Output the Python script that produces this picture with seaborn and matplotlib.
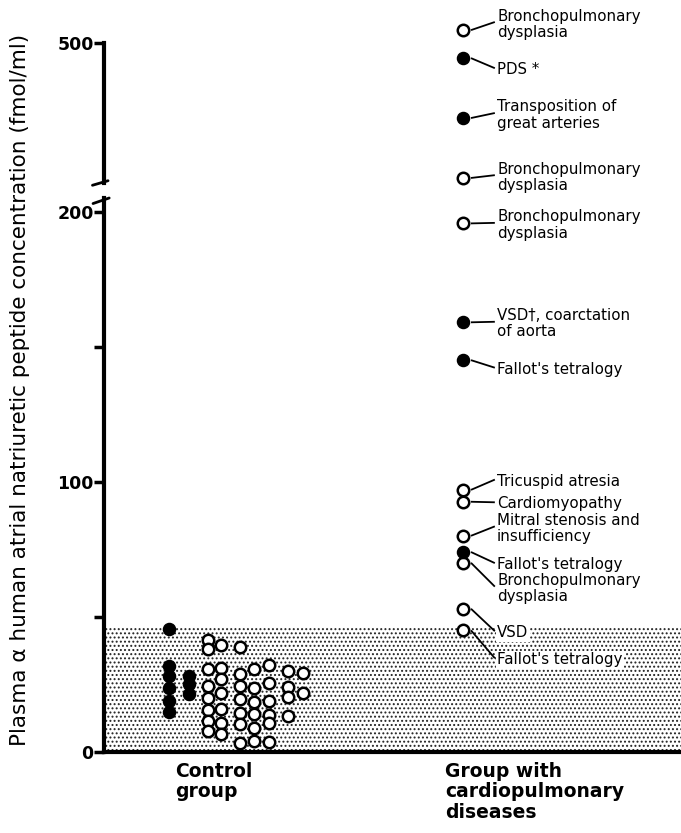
import numpy as np
import pandas as pd
import matplotlib
matplotlib.use("Agg")
import matplotlib.pyplot as plt
import seaborn as sns

# ---------------------------------------------------------------------
# Data (fmol/ml)
# ---------------------------------------------------------------------
groups = ["Control\ngroup", "Group with\ncardiopulmonary\ndiseases"]

# control group, one list per column of dots (left -> right)
control_cols = [
    [45.5, 31.9, 28.1, 23.7, 18.9, 14.8],               # filled
    [28.0, 25.0, 21.5],                                  # filled
    [41.5, 38.1, 30.7, 24.4, 20.0, 15.6, 11.5, 7.8],
    [39.6, 31.1, 27.0, 21.9, 15.9, 10.7, 6.7],
    [38.9, 28.9, 24.4, 19.6, 14.4, 10.4, 3.3],
    [30.7, 23.7, 18.5, 14.1, 8.9, 4.0],
    [32.2, 25.6, 18.9, 13.7, 10.7, 3.7],
    [30.0, 24.0, 20.4, 13.3],
    [29.3, 21.9],
]
control_filled = [True, True, False, False, False, False, False, False, False]

# patients with cardiopulmonary diseases
patient_values = [523, 473, 366, 259,
                  195.6, 159, 145, 97, 92.6, 80, 74, 70, 53, 45]
patient_filled = [False, True, True, False,
                  False, True, True, False, False, False, True, False, False, False]
patient_labels = [
    "Bronchopulmonary\ndysplasia", "PDS *", "Transposition of\ngreat arteries",
    "Bronchopulmonary\ndysplasia", "Bronchopulmonary\ndysplasia",
    "VSD\u2020, coarctation\nof aorta", "Fallot's tetralogy", "Tricuspid atresia",
    "Cardiomyopathy", "Mitral stenosis and\ninsufficiency", "Fallot's tetralogy",
    "Bronchopulmonary\ndysplasia", "VSD", "Fallot's tetralogy",
]
normal_upper = 46   # upper limit of the control range (shaded)

# layout only: where each label's first line sits, column offsets of control dots
label_y = [537.5, 455, 375, 264,
           195.8, 159.2, 142.2, 100.8, 92.4, 83.5, 69.9, 61.2, 44.7, 34.7]
col_offset = [-0.295, -0.207, -0.123, -0.066, 0.018, 0.079, 0.145, 0.229, 0.295]

# ---------------------------------------------------------------------
rows = []
for off, vals, filled in zip(col_offset, control_cols, control_filled):
    for v in vals:
        rows.append({"x": 0 + off, "y": v, "filled": filled})
ctrl = pd.DataFrame(rows)
pat = pd.DataFrame({"x": 1.0, "y": patient_values, "filled": patient_filled,
                    "label": patient_labels, "ly": label_y})

sns.set_style("white")
plt.rcParams["font.family"] = ["DejaVu Sans"]
plt.rcParams["hatch.linewidth"] = 0.9
plt.rcParams.update({"text.color": "black", "ytick.labelcolor": "black",
                     "axes.labelcolor": "black"})

W, H = 681, 833
fig = plt.figure(figsize=(W / 100, H / 100), dpi=100)
ax_hi = fig.add_axes([104 / W, 1 - 183 / H, 577 / W, 175 / H])
ax_lo = fig.add_axes([104 / W, 1 - 752 / H, 577 / W, 554 / H])

xlim = (-0.5815, 1.960)
break_at = 250
for ax in (ax_hi, ax_lo):
    ax.set_xlim(*xlim)
    ax.set_xticks([])
    ax.patch.set_alpha(0)
    for s in ["top", "right"]:
        ax.spines[s].set_visible(False)
    ax.spines["left"].set_linewidth(3)
    ax.spines["left"].set_color("black")
ax_hi.spines["bottom"].set_visible(False)
ax_lo.spines["bottom"].set_linewidth(3)
ax_lo.spines["bottom"].set_color("black")

ax_lo.set_ylim(0, 205)
ax_hi.set_ylim(break_at, 562.5)
ax_hi.spines["left"].set_bounds(break_at, 500)

ax_lo.set_yticks([0, 100, 200])
ax_lo.set_yticks([50, 150], minor=True)
ax_hi.set_yticks([500])
for ax in (ax_hi, ax_lo):
    ax.tick_params(axis="y", which="both", direction="out", length=7, width=2.5,
                   left=True, labelsize=12.5, pad=0.5, color="black",
                   labelcolor="black")
    plt.setp(ax.get_yticklabels(), fontweight="bold")

# shaded normal range
ax_lo.axhspan(0, normal_upper, facecolor="white", edgecolor="#222222",
              hatch="....", lw=0, zorder=0)

# dots
def draw(ax, d):
    sns.scatterplot(data=d[~d["filled"]], x="x", y="y", ax=ax, color="white",
                    edgecolor="black", linewidth=1.8, s=68, zorder=3,
                    legend=False, clip_on=False)
    sns.scatterplot(data=d[d["filled"]], x="x", y="y", ax=ax, color="black",
                    edgecolor="black", linewidth=1, s=76, zorder=4,
                    legend=False, clip_on=False)

draw(ax_lo, ctrl)
draw(ax_lo, pat[pat["y"] < break_at])
draw(ax_hi, pat[pat["y"] >= break_at])

# labels with connector lines
for _, r in pat.iterrows():
    ax = ax_hi if r["y"] >= break_at else ax_lo
    ax.plot([1.035, 1.14], [r["y"], r["ly"]], color="black", lw=1.3,
            solid_capstyle="butt", clip_on=False)
    box = None
    if r["ly"] < normal_upper:
        box = dict(facecolor="white", edgecolor="none", pad=1.0)
    ax.text(1.15, r["ly"], r["label"], ha="left", va="center_baseline",
            fontsize=10.8, linespacing=1.1, bbox=box, clip_on=False, zorder=5)

for ax in (ax_hi, ax_lo):
    ax.set_xlabel("")
    ax.set_ylabel("")

# group names
group_x = [-0.269, 0.921]
for gx, g in zip(group_x, groups):
    ax_lo.text(gx, -0.018, g, transform=ax_lo.get_xaxis_transform(),
               ha="left", va="top", fontsize=13.5, fontweight="bold",
               linespacing=1.1)

# axis break marks
ax_hi.plot([-0.02, 0.007], [-0.013, 0.013], transform=ax_hi.transAxes,
           color="black", lw=2, clip_on=False)
ax_lo.plot([-0.019, 0.009], [0.99, 1.0], transform=ax_lo.transAxes,
           color="black", lw=2, clip_on=False)

fig.text(20 / W, 1 - 390 / H,
         "Plasma \u03b1 human atrial natriuretic peptide concentration (fmol/ml)",
         rotation=90, ha="center", va="center", fontsize=15.5)

fig.savefig("out.png", dpi=100)
